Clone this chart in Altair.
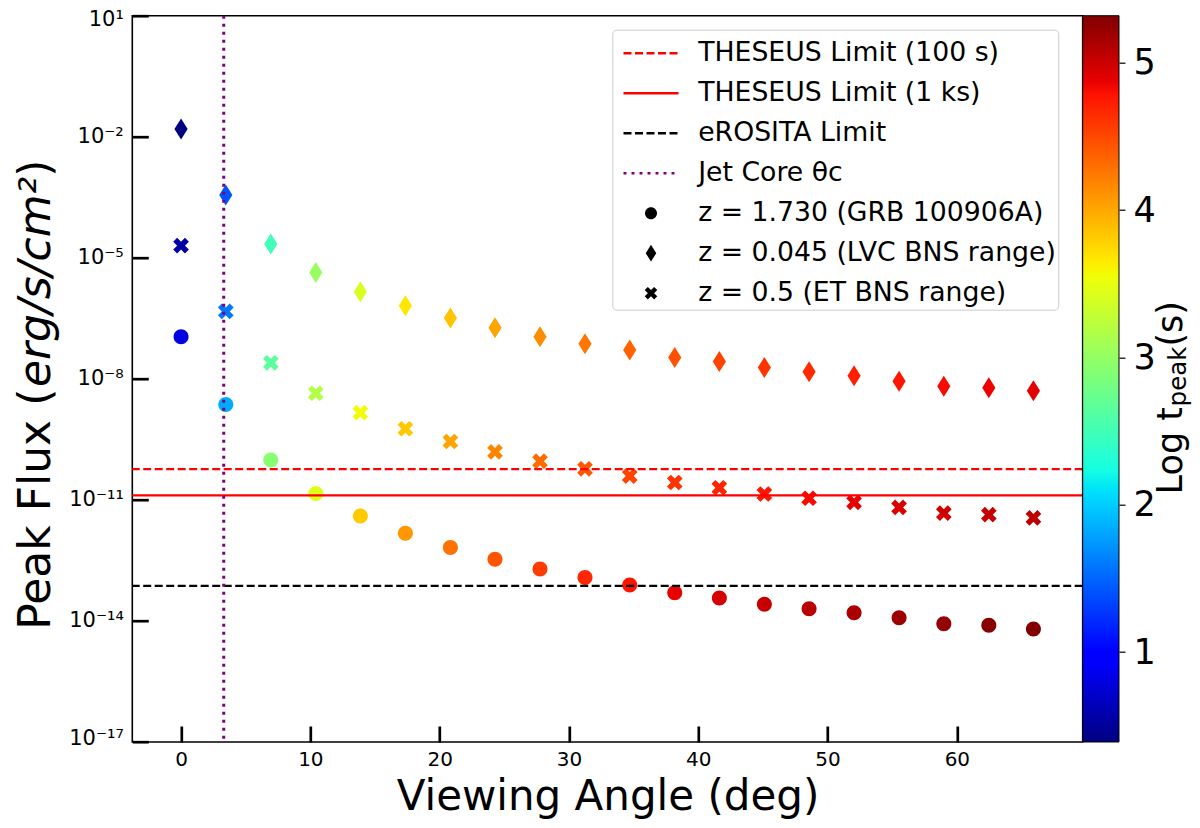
import altair as alt
import numpy as np
import pandas as pd

# viewing angle of each model point (deg)
angle = [0.0, 3.46, 6.94, 10.42, 13.87, 17.35, 20.83, 24.28, 27.76, 31.24,
         34.70, 38.18, 41.63, 45.11, 48.57, 52.05, 55.53, 58.99, 62.47, 65.92]

# peak flux (erg/s/cm^2)
flux_grb = [1.1e-7, 2.3e-9, 9.8e-11, 1.45e-11, 4.0e-12, 1.5e-12, 6.6e-13, 3.4e-13,
            1.95e-13, 1.2e-13, 7.8e-14, 5.0e-14, 3.7e-14, 2.6e-14, 2.0e-14, 1.6e-14,
            1.2e-14, 8.5e-15, 7.8e-15, 6.3e-15]
flux_lvc = [1.55e-2, 3.6e-4, 2.2e-5, 4.3e-6, 1.45e-6, 6.5e-7, 3.2e-7, 1.85e-7,
            1.1e-7, 7.4e-8, 5.2e-8, 3.4e-8, 2.7e-8, 1.9e-8, 1.5e-8, 1.2e-8,
            8.7e-9, 6.6e-9, 6.0e-9, 5.1e-9]
flux_et = [2.0e-5, 4.7e-7, 2.5e-8, 4.4e-9, 1.45e-9, 5.8e-10, 2.8e-10, 1.55e-10,
           9.1e-11, 5.9e-11, 3.9e-11, 2.7e-11, 2.0e-11, 1.4e-11, 1.1e-11, 8.7e-12,
           6.5e-12, 4.7e-12, 4.3e-12, 3.6e-12]

# log t_peak (s)
logt_grb = [0.81, 1.84, 2.92, 3.44, 3.82, 4.09, 4.28, 4.44, 4.57, 4.68,
            4.78, 4.87, 4.95, 5.02, 5.08, 5.14, 5.19, 5.24, 5.28, 5.32]
logt_lvc = [0.39, 1.42, 2.50, 3.02, 3.40, 3.67, 3.86, 4.02, 4.15, 4.26,
            4.36, 4.45, 4.53, 4.60, 4.66, 4.72, 4.77, 4.82, 4.86, 4.90]
logt_et = [0.55, 1.58, 2.66, 3.18, 3.56, 3.83, 4.02, 4.18, 4.31, 4.42,
           4.52, 4.61, 4.69, 4.76, 4.82, 4.88, 4.93, 4.98, 5.02, 5.06]

series_names = ["z = 1.730 (GRB 100906A)", "z = 0.045 (LVC BNS range)",
                "z = 0.5 (ET BNS range)"]

limit_names = ["THESEUS Limit (100 s)", "THESEUS Limit (1 ks)", "eROSITA Limit"]
limit_flux = [5.8e-11, 1.3e-11, 7.4e-14]
core_name = "Jet Core θc"
core_angle = [3.3]

y_tick_exp = [1, -2, -5, -8, -11, -14, -17]
x_ticks = [0, 10, 20, 30, 40, 50, 60]
cbar_ticks = [1, 2, 3, 4, 5]

W, H = 950.4, 726.3
CB = 36.3  # colour bar thickness

points = pd.DataFrame({
    "angle": angle * 3,
    "flux": flux_grb + flux_lvc + flux_et,
    "logt": logt_grb + logt_lvc + logt_et,
    "entry": [n for n in series_names for _ in angle],
})
limits = pd.DataFrame({"flux": limit_flux, "entry": limit_names})
core = pd.DataFrame({"angle": core_angle, "entry": [core_name]})
entries = limit_names + [core_name] + series_names

# jet colormap stops
jet_r = [(0, 0), (0.35, 0), (0.66, 1), (0.89, 1), (1, 0.5)]
jet_g = [(0, 0), (0.125, 0), (0.375, 1), (0.64, 1), (0.91, 0), (1, 0)]
jet_b = [(0, 0.5), (0.11, 1), (0.34, 1), (0.65, 0), (1, 0)]
stops = sorted({t for seg in (jet_r, jet_g, jet_b) for t, _ in seg})


def chan(seg, t):
    return np.interp(t, [p[0] for p in seg], [p[1] for p in seg])


vmin = min(logt_grb + logt_lvc + logt_et)
vmax = max(logt_grb + logt_lvc + logt_et)
jet_domain = [vmin + t * (vmax - vmin) for t in stops]
jet_range = ["#%02x%02x%02x" % tuple(int(round(255 * chan(s, t))) for s in (jet_r, jet_g, jet_b))
             for t in stops]
cbar_df = pd.DataFrame({"lo": [vmin], "hi": [vmax]})

# symbol paths
LINE = "M-1.375,0H1.375"
CIRCLE = "M-0.3,0A0.3,0.3,0,1,0,0.3,0A0.3,0.3,0,1,0,-0.3,0Z"
DIAMOND = "M0,-0.42L0.264,0L0,0.42L-0.264,0Z"
xv = [(-1, -2), (0, -1), (1, -2), (2, -1), (1, 0), (2, 1), (1, 2), (0, 1),
      (-1, 2), (-2, 1), (-1, 0), (-2, -1)]
CROSS = "M" + "L".join(f"{x * 0.157:.3f},{y * 0.157:.3f}" for x, y in xv) + "Z"

x_scale = alt.Scale(domain=[-3.77, 69.73], nice=False, zero=False)
y_scale = alt.Scale(type="log", domain=[1e-17, 10], nice=False)
shape_scale = alt.Scale(domain=entries, range=[LINE] * 4 + [CIRCLE, DIAMOND, CROSS])
stroke_scale = alt.Scale(domain=entries, range=["#ff0000", "#ff0000", "#000000", "#800080",
                                                "transparent", "transparent", "transparent"])
dash_scale = alt.Scale(domain=entries, range=[[8, 3.5], [1, 0], [8, 3.5], [3, 5],
                                              [1, 0], [1, 0], [1, 0]])

sup = str.maketrans("-0123456789", "⁻⁰¹²³⁴⁵⁶⁷⁸⁹")
label_expr = "''"
for e in reversed(y_tick_exp):
    label_expr = f"round(log(datum.value)/LN10) == {e} ? '10{str(e).translate(sup)}' : {label_expr}"
y_ticks = [10.0 ** e for e in y_tick_exp]

entry_legend = alt.Legend(
    title=None, orient="none", legendX=480, legendY=14, padding=2,
    fillColor="white", strokeColor="#cccccc", cornerRadius=4,
    symbolSize=1600, symbolStrokeWidth=2.5, symbolFillColor="black",
    symbolOffset=15.2, labelOffset=25.7, labelFontSize=26.7, labelLimit=600,
    rowPadding=4, labelColor="black",
)

pts = (
    alt.Chart(points)
    .mark_point(filled=True, opacity=1, size=2500)
    .encode(
        x=alt.X("angle:Q", scale=x_scale,
                axis=alt.Axis(values=x_ticks, ticks=False, tickSize=0, domain=False, grid=False,
                              labelFontSize=20, labelPadding=8, labelColor="black",
                              title="Viewing Angle (deg)", titleFontSize=42,
                              titleFontWeight="normal", titleColor="black",
                              titleX=W / 2, titleY=68, titleBaseline="alphabetic")),
        y=alt.Y("flux:Q", scale=y_scale,
                axis=alt.Axis(values=y_ticks, labelExpr=label_expr, ticks=False, tickSize=0,
                              domain=False, grid=False, labelFontSize=21, labelPadding=9,
                              labelColor="black", labelFlush=True, labelFlushOffset=7,
                              title=None)),
        fill=alt.Fill("logt:Q",
                      scale=alt.Scale(domain=jet_domain, range=jet_range, interpolate="rgb"),
                      legend=None),
        shape=alt.Shape("entry:N", scale=shape_scale, legend=entry_legend),
    )
)

hrules = (
    alt.Chart(limits)
    .mark_rule(strokeWidth=2.2)
    .encode(
        y=alt.Y("flux:Q", scale=y_scale,
                axis=alt.Axis(orient="right", offset=-W, values=y_ticks, labels=False,
                              domain=False, grid=False, ticks=True, tickSize=16,
                              tickWidth=2.7, tickColor="black", title=None)),
        stroke=alt.Stroke("entry:N", scale=stroke_scale, legend=entry_legend),
        strokeDash=alt.StrokeDash("entry:N", scale=dash_scale, legend=entry_legend),
    )
)

vrule = (
    alt.Chart(core)
    .mark_rule(strokeWidth=3)
    .encode(
        x=alt.X("angle:Q", scale=x_scale,
                axis=alt.Axis(orient="top", offset=-H, values=x_ticks, labels=False,
                              domain=False, grid=False, ticks=True, tickSize=16,
                              tickWidth=2.7, tickColor="black", title=None)),
        stroke=alt.Stroke("entry:N", scale=stroke_scale, legend=entry_legend),
        strokeDash=alt.StrokeDash("entry:N", scale=dash_scale, legend=entry_legend),
    )
)

# colour bar: a jet-filled rect spanning the log t range, with its own axis
jet_gradient = alt.LinearGradient(
    gradient="linear", x1=0, x2=0, y1=1, y2=0,
    stops=[alt.GradientStop(color=c, offset=t) for t, c in zip(stops, jet_range)],
)
cbar = (
    alt.Chart(cbar_df)
    .mark_rect(fill=jet_gradient, stroke="black", strokeWidth=1)
    .encode(
        x=alt.value(W), x2=alt.value(W + CB),
        y=alt.Y("lo:Q", scale=alt.Scale(domain=[vmin, vmax], nice=False, zero=False),
                axis=alt.Axis(orient="right", offset=CB, values=cbar_ticks, format="d",
                              tickSize=6, tickWidth=1.2, tickColor="black", labelFontSize=35,
                              labelPadding=8, labelColor="black", domain=False, grid=False,
                              title=None)),
        y2="hi:Q",
    )
)


def label_piece(text, x, y, size, style="normal"):
    # one piece of a rotated title, written bottom to top
    return (
        alt.Chart(pd.DataFrame({"t": [text]}))
        .mark_text(angle=270, fontSize=size, fontStyle=style, align="left",
                   baseline="alphabetic", color="black")
        .encode(x=alt.value(x), y=alt.value(y), text="t:N")
    )


# y title: "Peak Flux (" + italic units + ")"
yt_x, yt_y0, yt_fs = -82, 614, 44
y_title = [
    label_piece("Peak Flux (", yt_x, yt_y0, yt_fs),
    label_piece("erg/s/cm²", yt_x, yt_y0 - 5.515 * yt_fs, yt_fs, "italic"),
    label_piece(")", yt_x, yt_y0 - 10.296 * yt_fs, yt_fs),
]

# colour bar title: "Log t" + subscript "peak" + "(s)"
ct_x, ct_y0, ct_fs, ct_sub = W + 99.3, 478.7, 35, 24.5
cbar_title = [
    label_piece("Log t", ct_x, ct_y0, ct_fs),
    label_piece("peak", ct_x + 4, ct_y0 - 2.514 * ct_fs, ct_sub),
    label_piece("(s)", ct_x, ct_y0 - 2.514 * ct_fs - 2.442 * ct_sub, ct_fs),
]

chart = (
    alt.layer(pts, hrules, vrule, cbar, *y_title, *cbar_title)
    .resolve_scale(y="independent")
    .resolve_axis(x="independent", y="independent")
    .properties(width=W, height=H, autosize=alt.AutoSizeParams(type="none"),
                padding={"left": 124.3, "top": 7.7, "right": 109, "bottom": 78})
    .configure(font="DejaVu Sans")
    .configure_view(stroke="black", strokeWidth=1.6)
)

chart.save("out.html", embed_options={"renderer": "svg", "actions": False})
